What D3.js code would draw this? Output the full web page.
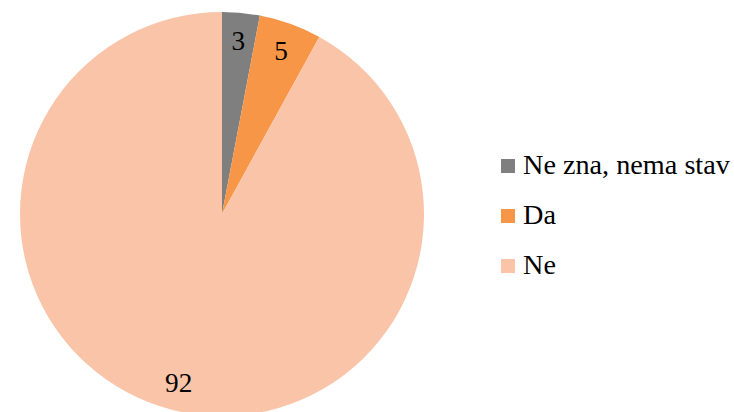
<!DOCTYPE html>
<html>
<head>
<meta charset="utf-8">
<script src="https://cdn.jsdelivr.net/npm/d3@7/dist/d3.min.js"></script>
<style>
  html, body { margin: 0; padding: 0; background: #fff; }
</style>
</head>
<body>
<svg id="chart" width="734" height="412"></svg>
<script>
// chart data
var categories = ["Ne zna, nema stav", "Da", "Ne"];
var values = [3, 5, 92];
var colors = ["#7f7f7f", "#f79646", "#fac4a9"];

var FONT = "'Liberation Serif'";
var svg = d3.select("#chart");
var cx = 222, cy = 214, r = 202;

// size the font so the longest legend entry spans about 207px, like the original
var probe = svg.append("text").style("font-family", FONT).style("font-size", "20px").text(categories[0]);
var fs = 20 * 207 / probe.node().getComputedTextLength();
probe.remove();

var pie = d3.pie().sort(null).value(function(d) { return d; });
var arcs = pie(values);

var arc = d3.arc().innerRadius(0).outerRadius(r);
var labelArc = d3.arc().innerRadius(174).outerRadius(174);

var g = svg.append("g").attr("transform", "translate(" + cx + "," + cy + ")");

g.selectAll("path.slice")
  .data(arcs)
  .enter()
    .append("path")
    .attr("class", "slice")
    .attr("d", arc)
    .attr("fill", function(d, i) { return colors[i]; });

g.selectAll("text.lbl")
  .data(arcs)
  .enter()
    .append("text")
    .attr("class", "lbl")
    .attr("transform", function(d) { return "translate(" + labelArc.centroid(d) + ")"; })
    .attr("dy", "0.35em")
    .attr("text-anchor", "middle")
    .style("font-family", FONT)
    .style("font-size", (fs - 1) + "px")
    .attr("fill", "#000")
    .text(function(d) { return d.data; });

// legend
var legend = svg.append("g").attr("transform", "translate(501,166)");
var item = legend.selectAll("g.item")
  .data(categories)
  .enter()
    .append("g")
    .attr("class", "item")
    .attr("transform", function(d, i) { return "translate(0," + (i * 50) + ")"; });

item.append("rect")
  .attr("x", 0).attr("y", -7)
  .attr("width", 14).attr("height", 14)
  .attr("fill", function(d, i) { return colors[i]; });

item.append("text")
  .attr("x", 22)
  .attr("y", 8)
  .style("font-family", FONT)
  .style("font-size", fs + "px")
  .attr("fill", "#000")
  .text(function(d) { return d; });
</script>
</body>
</html>
